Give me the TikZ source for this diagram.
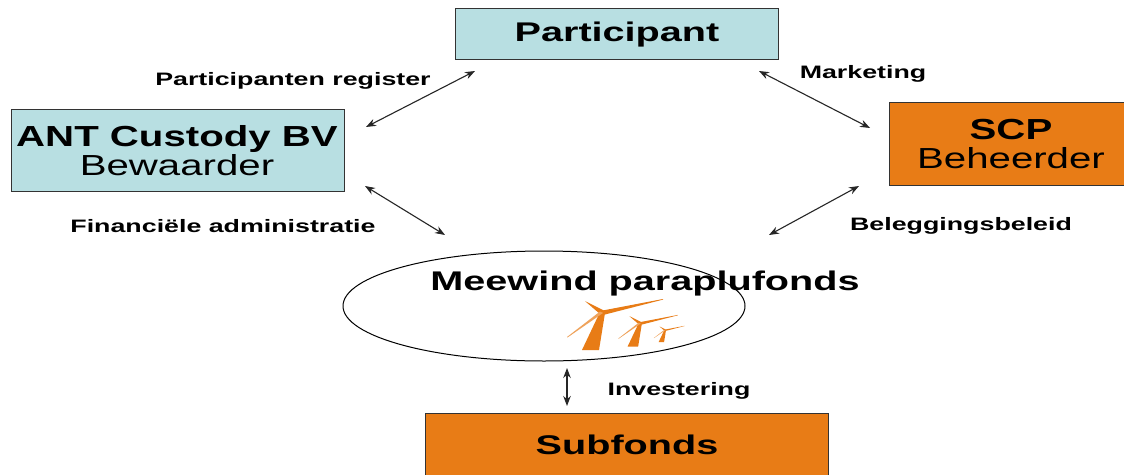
\documentclass[tikz,border=0pt]{standalone}
\usepackage{fontspec}
\setmainfont{Liberation Sans}
\usepackage{graphicx}
\usetikzlibrary{arrows.meta,shapes.geometric}
\definecolor{lightblue}{RGB}{184,223,226}
\definecolor{windorange}{RGB}{232,124,22}
\newcommand{\wtxt}[3]{\scalebox{#2}[1]{\fontsize{#1}{#1}\selectfont #3}}
\newcommand{\lbltxt}[1]{\wtxt{18}{1.488}{\textbf{#1}}}
\tikzset{
  x=1pt,y=-1pt,
  panel/.style={draw=black!80,line width=0.9pt,inner sep=0pt,anchor=north west},
  bluebox/.style={panel,fill=lightblue},
  orangebox/.style={panel,fill=windorange},
  boxtext/.style={align=center,inner sep=0pt,text=black},
  lbl/.style={inner sep=0pt,text=black},
  link/.style={draw=black!85,line width=1.1pt,{Stealth[length=10pt,width=7.5pt]}-{Stealth[length=10pt,width=7.5pt]}},
  mast/.style={fill=windorange,draw=none},
  softblade/.style={fill=windorange!70,draw=none}
}
\newcommand{\turbine}[3]{% x,y hub, scale
  \begin{scope}[shift={(#1,#2)},scale=#3]
    \fill[mast] (-2,0) -- (3,1) -- (-3,38) -- (-20,38) -- cycle;
    \fill[mast] (2,-1.5) -- (-17,-11) -- (-16,-10) -- (-2,2) -- cycle;
    \fill[mast] (-2,-1) -- (61,-13) -- (61,-12.4) -- (3,2.5) -- cycle;
    \fill[softblade] (-2,-0.5) -- (-35,25) -- (-34.5,25.5) -- (1,1) -- cycle;
  \end{scope}}
\begin{document}
\begin{tikzpicture}
\useasboundingbox (0,0) rectangle (1124,474);
\fill[white] (0,0) rectangle (1124,474);
\node[bluebox,minimum width=323pt,minimum height=51pt] (part) at (455,8) {};
\node[boxtext] at (617,35) {\wtxt{27}{1.467}{\textbf{Participant}}};
\node[bluebox,minimum width=333pt,minimum height=82pt] (ant) at (11,109) {};
\node[boxtext] at (177,139) (antt) {\wtxt{29}{1.386}{\textbf{ANT Custody BV}}};
\node[boxtext] at (177,165) (antb) {\wtxt{29}{1.386}{Bewaarder}};
\node[orangebox,minimum width=236pt,minimum height=83pt] (scp) at (889,102) {};
\node[boxtext] at (1011,130) (scpt) {\wtxt{29}{1.386}{\textbf{SCP}}};
\node[boxtext] at (1011,158) (scpb) {\wtxt{29}{1.386}{Beheerder}};
\node[draw=black,line width=1pt,fill=white,ellipse,minimum width=402pt,minimum height=110pt,inner sep=0pt] (fonds) at (544,306) {};
\node[boxtext] at (645,284) (fondst) {\wtxt{27}{1.467}{\textbf{Meewind paraplufonds}}};
\node[orangebox,minimum width=403pt,minimum height=62pt] (sub) at (425,413) {};
\node[boxtext] at (627,445) (subt) {\wtxt{27}{1.467}{\textbf{Subfonds}}};
\turbine{602}{312}{1}
\turbine{640}{323}{0.62}
\turbine{665}{330}{0.32}
\node[lbl] (l1) at (293,81) {\lbltxt{Participanten register}};
\node[lbl] (l2) at (863,74) {\lbltxt{Marketing}};
\node[lbl] (l3) at (223,226) {\lbltxt{Financiële administratie}};
\node[lbl] (l4) at (961,226) {\lbltxt{Beleggingsbeleid}};
\node[lbl] (l5) at (679,391) {\lbltxt{Investering}};
\coordinate (a1) at (475,71); \coordinate (a2) at (366,127);
\coordinate (b1) at (759,71); \coordinate (b2) at (870,128);
\coordinate (c1) at (365,186); \coordinate (c2) at (445,235);
\coordinate (d1) at (859,186); \coordinate (d2) at (769,235);
\coordinate (e1) at (567,368); \coordinate (e2) at (567,406);
\draw[link] (a1) -- (a2);
\draw[link] (b1) -- (b2);
\draw[link] (c1) -- (c2);
\draw[link] (d1) -- (d2);
\draw[link] (e1) -- (e2);
\end{tikzpicture}
\end{document}
